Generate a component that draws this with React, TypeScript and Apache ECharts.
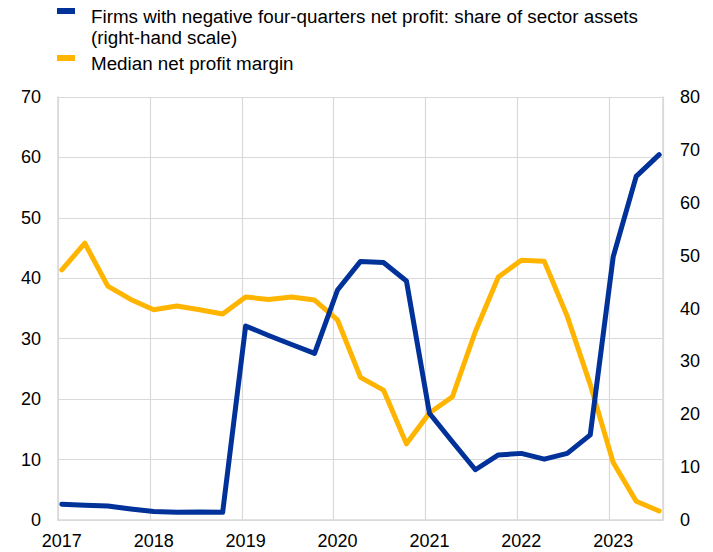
import React, { useEffect, useRef } from "react";
import * as echarts from "echarts";

const quarters = [
  "2017Q1","2017Q2","2017Q3","2017Q4",
  "2018Q1","2018Q2","2018Q3","2018Q4",
  "2019Q1","2019Q2","2019Q3","2019Q4",
  "2020Q1","2020Q2","2020Q3","2020Q4",
  "2021Q1","2021Q2","2021Q3","2021Q4",
  "2022Q1","2022Q2","2022Q3","2022Q4",
  "2023Q1","2023Q2","2023Q3",
];

// Right-hand scale: share of sector assets of firms with negative four-quarters net profit
const negativeProfitShare = [
  3.0, 2.8, 2.65, 2.1,
  1.6, 1.45, 1.5, 1.45,
  36.7, 34.9, 33.2, 31.5,
  43.5, 48.9, 48.7, 45.2,
  20.2, 14.8, 9.5, 12.3,
  12.6, 11.5, 12.6, 16.1,
  49.8, 65.0, 69.1,
];

// Left-hand scale: median net profit margin
const medianMargin = [
  41.4, 45.8, 38.7, 36.5,
  34.8, 35.4, 34.8, 34.1,
  36.9, 36.5, 36.9, 36.4,
  33.1, 23.6, 21.5, 12.6,
  17.7, 20.4, 31.2, 40.2,
  43.0, 42.8, 33.7, 22.4,
  9.5, 3.1, 1.5,
];

const yearLabels = ["2017", "2018", "2019", "2020", "2021", "2022", "2023"];

const seriesNames = [
  "Firms with negative four-quarters net profit: share of sector assets (right-hand scale)",
  "Median net profit margin",
];

const BLUE = "#003299";
const YELLOW = "#FFB400";
const GRID = "#d9d9d9";
const FONT = "'Liberation Sans', Arial, sans-serif";
const LEGEND_FONT = `18.8px ${FONT}`;

// month index (since Jan 2017) at mid-month of the quarter's first month
function quarterToMonth(q: string): number {
  const y = parseInt(q.slice(0, 4), 10);
  const n = parseInt(q.slice(5), 10);
  return (y - 2017) * 12 + (n - 1) * 3 + 0.5;
}

export default function App() {
  const ref = useRef<HTMLDivElement>(null);

  useEffect(() => {
    document.body.style.margin = "0";
    if (!ref.current) return;
    const chart = echarts.init(ref.current, null, { renderer: "svg" });

    const blueData = quarters.map((q, i) => [quarterToMonth(q), negativeProfitShare[i]]);
    const yellowData = quarters.map((q, i) => [quarterToMonth(q), medianMargin[i]]);
    const labelValues = yearLabels.map((y) => (parseInt(y, 10) - 2017) * 12 + 0.5);

    chart.setOption({
      animation: false,
      textStyle: { fontFamily: FONT },
      grid: { left: 58, right: 50, top: 97, bottom: 32, containLabel: false },
      xAxis: {
        type: "value",
        min: 0,
        max: 79,
        interval: 12,
        axisLine: { show: true, lineStyle: { color: GRID, width: 1.5 } },
        axisTick: { show: false },
        splitLine: { show: true, lineStyle: { color: GRID, width: 1.2 } },
        axisLabel: {
          customValues: labelValues,
          formatter: (v: number) => String(Math.round(2017 + (v - 0.5) / 12)),
          color: "#000",
          fontSize: 18,
          fontFamily: FONT,
          margin: 12,
        },
      },
      yAxis: [
        {
          type: "value",
          min: 0,
          max: 70,
          interval: 10,
          position: "left",
          axisLine: { show: true, lineStyle: { color: GRID, width: 1.5 } },
          axisTick: { show: false },
          splitLine: { show: true, lineStyle: { color: GRID, width: 1.2 } },
          axisLabel: { color: "#000", fontSize: 18, fontFamily: FONT, margin: 17 },
        },
        {
          type: "value",
          min: 0,
          max: 80,
          interval: 10,
          position: "right",
          axisLine: { show: true, lineStyle: { color: GRID, width: 1.5 } },
          axisTick: { show: false },
          splitLine: { show: false },
          axisLabel: { color: "#000", fontSize: 18, fontFamily: FONT, margin: 17 },
        },
      ],
      series: [
        {
          name: seriesNames[1],
          type: "line",
          yAxisIndex: 0,
          data: yellowData,
          showSymbol: false,
          lineStyle: { color: YELLOW, width: 5, join: "round", cap: "round" },
          itemStyle: { color: YELLOW },
          z: 2,
        },
        {
          name: seriesNames[0],
          type: "line",
          yAxisIndex: 1,
          data: blueData,
          showSymbol: false,
          lineStyle: { color: BLUE, width: 5, join: "round", cap: "round" },
          itemStyle: { color: BLUE },
          z: 3,
        },
      ],
      graphic: [
        { type: "rect", left: 57, top: 8, shape: { width: 18, height: 6 }, style: { fill: BLUE } },
        {
          type: "text",
          x: 91,
          y: 16.7,
          style: {
            text: "Firms with negative four-quarters net profit: share of sector assets",
            font: LEGEND_FONT,
            fill: "#000",
            verticalAlign: "middle",
          },
        },
        {
          type: "text",
          x: 91,
          y: 37,
          style: { text: "(right-hand scale)", font: LEGEND_FONT, fill: "#000", verticalAlign: "middle" },
        },
        { type: "rect", left: 57, top: 55, shape: { width: 18, height: 6 }, style: { fill: YELLOW } },
        {
          type: "text",
          x: 91,
          y: 63.5,
          style: { text: seriesNames[1], font: LEGEND_FONT, fill: "#000", verticalAlign: "middle" },
        },
      ],
    });

    return () => chart.dispose();
  }, []);

  return <div ref={ref} style={{ width: 713, height: 552 }} />;
}
